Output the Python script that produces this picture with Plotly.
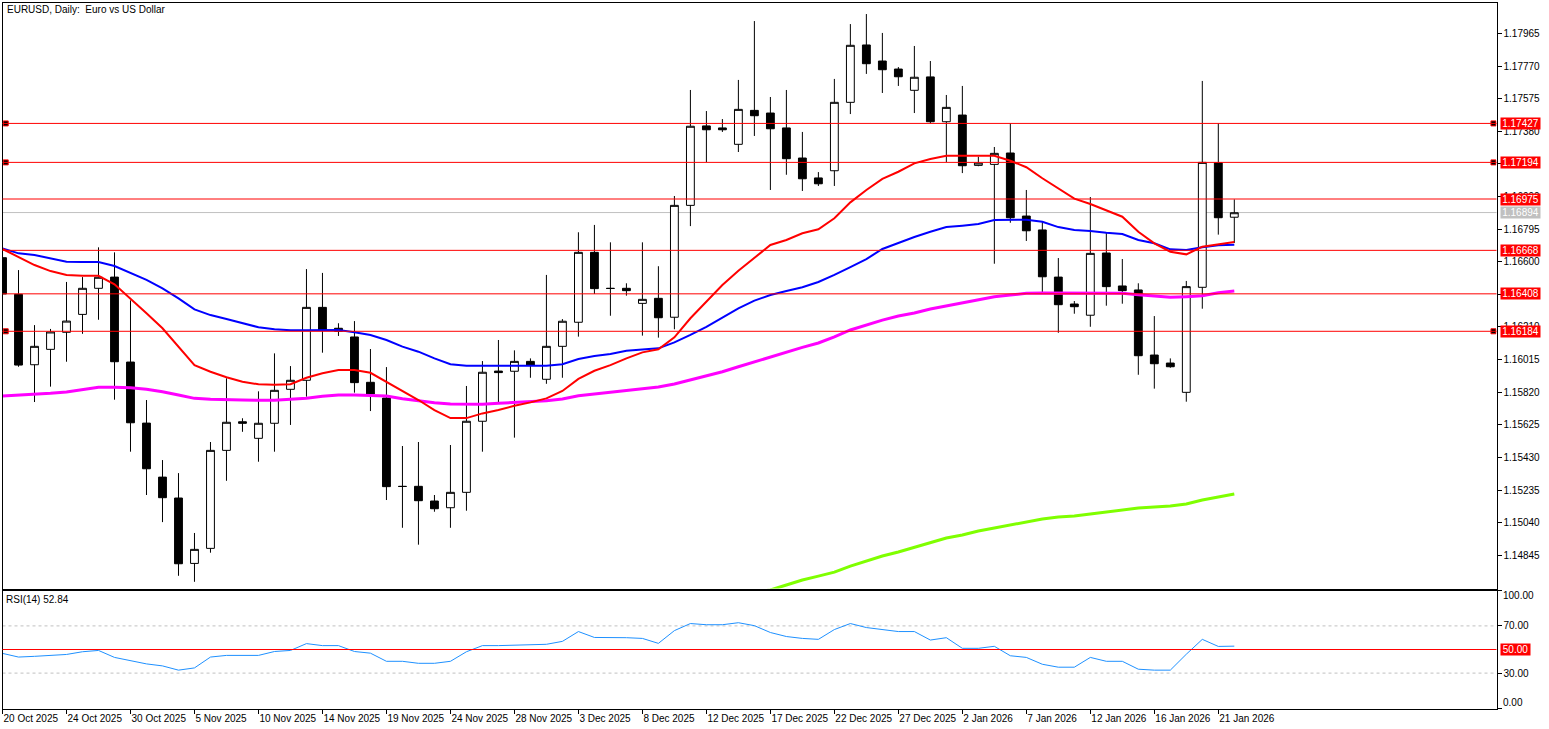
import plotly.graph_objects as go
from plotly.subplots import make_subplots

# EURUSD daily, one row per bar
opens = [
    1.16624, 1.16405, 1.15984, 1.16076, 1.16178, 1.16285, 1.16441, 1.16508, 1.16000, 1.15635,
    1.15312, 1.15187, 1.14796, 1.14886, 1.15472, 1.15643, 1.15544, 1.15634, 1.15837, 1.15891,
    1.16327, 1.16202, 1.16150, 1.15879, 1.15785, 1.15257, 1.15257, 1.15169, 1.15129, 1.15221,
    1.15646, 1.15946, 1.15945, 1.16004, 1.15897, 1.16094, 1.16238, 1.16656, 1.16441, 1.16441,
    1.16351, 1.16381, 1.16268, 1.16937, 1.17412, 1.17400, 1.17302, 1.17505, 1.17489, 1.17400,
    1.17220, 1.17101, 1.17144, 1.17553, 1.17896, 1.17800, 1.17752, 1.17625, 1.17705, 1.17437,
    1.17477, 1.17176, 1.17182, 1.17250, 1.16873, 1.16790, 1.16508, 1.16347, 1.16280, 1.16652,
    1.16455, 1.16431, 1.16042, 1.15994, 1.15819, 1.16447, 1.17192, 1.16866,
]
highs = [
    1.16658, 1.16550, 1.16221, 1.16198, 1.16479, 1.16508, 1.16686, 1.16656, 1.16369, 1.15773,
    1.15414, 1.15336, 1.14978, 1.15522, 1.15903, 1.15664, 1.15825, 1.16052, 1.15976, 1.16556,
    1.16533, 1.16232, 1.16245, 1.16078, 1.15970, 1.15498, 1.15522, 1.15205, 1.15504, 1.15857,
    1.16006, 1.16132, 1.16070, 1.16022, 1.16521, 1.16257, 1.16776, 1.16820, 1.16716, 1.16471,
    1.16716, 1.16573, 1.16993, 1.17627, 1.17501, 1.17453, 1.17687, 1.18039, 1.17585, 1.17627,
    1.17376, 1.17136, 1.17693, 1.18021, 1.18081, 1.17968, 1.17764, 1.17890, 1.17800, 1.17597,
    1.17651, 1.17228, 1.17286, 1.17428, 1.17029, 1.16839, 1.16622, 1.16365, 1.16987, 1.16773,
    1.16616, 1.16471, 1.16275, 1.16022, 1.16485, 1.17681, 1.17428, 1.16973,
]
lows = [
    1.16395, 1.15972, 1.15761, 1.15853, 1.16002, 1.16169, 1.16253, 1.15775, 1.15464, 1.15205,
    1.15043, 1.14722, 1.14686, 1.14860, 1.15290, 1.15583, 1.15404, 1.15464, 1.15624, 1.15793,
    1.16056, 1.16156, 1.15817, 1.15707, 1.15175, 1.15009, 1.14908, 1.15105, 1.15009, 1.15111,
    1.15464, 1.15761, 1.15548, 1.15906, 1.15870, 1.15906, 1.16152, 1.16407, 1.16277, 1.16397,
    1.16158, 1.16146, 1.16196, 1.16813, 1.17196, 1.17376, 1.17256, 1.17352, 1.17029, 1.17120,
    1.17023, 1.17053, 1.17053, 1.17483, 1.17723, 1.17609, 1.17651, 1.17489, 1.17428, 1.17196,
    1.17130, 1.17171, 1.16588, 1.16833, 1.16724, 1.16415, 1.16175, 1.16289, 1.16211, 1.16337,
    1.16349, 1.15924, 1.15841, 1.15966, 1.15763, 1.16319, 1.16762, 1.16712,
]
closes = [
    1.16407, 1.15982, 1.16094, 1.16180, 1.16245, 1.16441, 1.16507, 1.16002, 1.15637, 1.15362,
    1.15189, 1.14794, 1.14880, 1.15472, 1.15640, 1.15634, 1.15634, 1.15831, 1.15891, 1.16327,
    1.16192, 1.16184, 1.15877, 1.15809, 1.15255, 1.15256, 1.15171, 1.15123, 1.15221, 1.15646,
    1.15939, 1.15937, 1.16004, 1.15982, 1.16094, 1.16244, 1.16656, 1.16439, 1.16440, 1.16427,
    1.16375, 1.16265, 1.16937, 1.17410, 1.17389, 1.17389, 1.17511, 1.17473, 1.17395, 1.17216,
    1.17096, 1.17066, 1.17553, 1.17894, 1.17784, 1.17748, 1.17706, 1.17703, 1.17437, 1.17523,
    1.17174, 1.17190, 1.17248, 1.16863, 1.16785, 1.16510, 1.16343, 1.16331, 1.16650, 1.16451,
    1.16427, 1.16038, 1.15990, 1.15972, 1.16451, 1.17194, 1.16863, 1.16893,
]

ma_red = [
    1.16676, 1.16630, 1.16580, 1.16544, 1.16521, 1.16516, 1.16516, 1.16465, 1.16381, 1.16292,
    1.16202, 1.16092, 1.15982, 1.15942, 1.15909, 1.15882, 1.15867, 1.15864, 1.15867, 1.15906,
    1.15933, 1.15952, 1.15952, 1.15936, 1.15882, 1.15831, 1.15773, 1.15713, 1.15665, 1.15665,
    1.15693, 1.15713, 1.15739, 1.15759, 1.15783, 1.15827, 1.15899, 1.15948, 1.15982, 1.16022,
    1.16058, 1.16076, 1.16148, 1.16262, 1.16361, 1.16461, 1.16546, 1.16622, 1.16700, 1.16730,
    1.16770, 1.16794, 1.16860, 1.16955, 1.17029, 1.17095, 1.17138, 1.17188, 1.17214, 1.17234,
    1.17234, 1.17234, 1.17234, 1.17204, 1.17165, 1.17099, 1.17039, 1.16977, 1.16945, 1.16909,
    1.16869, 1.16779, 1.16710, 1.16660, 1.16644, 1.16690, 1.16706, 1.16718,
]
ma_blue = [
    1.16680, 1.16650, 1.16640, 1.16620, 1.16600, 1.16598, 1.16598, 1.16574, 1.16534, 1.16491,
    1.16441, 1.16381, 1.16315, 1.16281, 1.16257, 1.16232, 1.16208, 1.16196, 1.16190, 1.16190,
    1.16193, 1.16192, 1.16178, 1.16162, 1.16132, 1.16092, 1.16062, 1.16022, 1.15987, 1.15978,
    1.15978, 1.15978, 1.15978, 1.15978, 1.15978, 1.15987, 1.16018, 1.16036, 1.16048, 1.16068,
    1.16076, 1.16082, 1.16118, 1.16162, 1.16211, 1.16268, 1.16321, 1.16367, 1.16401, 1.16425,
    1.16447, 1.16479, 1.16521, 1.16568, 1.16616, 1.16676, 1.16712, 1.16748, 1.16779, 1.16807,
    1.16815, 1.16825, 1.16849, 1.16851, 1.16851, 1.16839, 1.16807, 1.16790, 1.16784, 1.16773,
    1.16766, 1.16730, 1.16710, 1.16674, 1.16670, 1.16686, 1.16698, 1.16702,
]
ma_magenta = [
    1.15797, 1.15801, 1.15807, 1.15813, 1.15821, 1.15837, 1.15849, 1.15849, 1.15847, 1.15837,
    1.15823, 1.15803, 1.15783, 1.15777, 1.15777, 1.15773, 1.15771, 1.15771, 1.15777, 1.15783,
    1.15795, 1.15803, 1.15803, 1.15801, 1.15797, 1.15781, 1.15767, 1.15757, 1.15749, 1.15747,
    1.15747, 1.15753, 1.15757, 1.15761, 1.15769, 1.15779, 1.15799, 1.15809, 1.15819, 1.15833,
    1.15841, 1.15851, 1.15869, 1.15893, 1.15918, 1.15942, 1.15972, 1.16002, 1.16032, 1.16060,
    1.16088, 1.16114, 1.16150, 1.16192, 1.16222, 1.16251, 1.16275, 1.16293, 1.16317, 1.16335,
    1.16357, 1.16371, 1.16391, 1.16401, 1.16411, 1.16413, 1.16413, 1.16413, 1.16413, 1.16411,
    1.16411, 1.16403, 1.16397, 1.16387, 1.16391, 1.16397, 1.16415, 1.16425,
]
# green only comes into view from bar 47
green_start = 47
ma_green = [
    1.14625, 1.14637, 1.14667, 1.14697, 1.14720, 1.14744, 1.14780, 1.14810, 1.14840, 1.14864,
    1.14891, 1.14918, 1.14948, 1.14966, 1.14990, 1.15008, 1.15026, 1.15043, 1.15061, 1.15073,
    1.15079, 1.15091, 1.15103, 1.15115, 1.15127, 1.15133, 1.15139, 1.15151, 1.15175, 1.15193,
    1.15211,
]

rsi = [
    46.7, 43.6, 44.2, 45.0, 45.8, 48.1, 49.2, 43.3, 40.3, 37.8,
    36.1, 32.5, 34.4, 43.6, 45.0, 45.0, 45.0, 48.3, 49.2, 55.0,
    53.3, 53.3, 48.3, 46.9, 40.0, 40.0, 38.3, 38.3, 40.0, 48.1,
    53.3, 53.3, 53.6, 53.6, 54.4, 56.9, 65.2, 60.2, 60.2, 60.0,
    59.4, 55.2, 66.0, 72.0, 71.0, 71.0, 72.7, 70.2, 64.4, 61.0,
    59.4, 58.6, 66.9, 72.0, 68.6, 66.9, 65.2, 65.2, 58.0, 60.0,
    51.0, 51.0, 52.7, 44.7, 43.3, 37.5, 35.0, 35.0, 43.3, 40.0,
    40.0, 33.3, 32.5, 32.5, 46.0, 58.6, 52.6, 52.84,
]

date_labels = [
    "20 Oct 2025", "24 Oct 2025", "30 Oct 2025", "5 Nov 2025", "10 Nov 2025", "14 Nov 2025",
    "19 Nov 2025", "24 Nov 2025", "28 Nov 2025", "3 Dec 2025", "8 Dec 2025", "12 Dec 2025",
    "17 Dec 2025", "22 Dec 2025", "27 Dec 2025", "2 Jan 2026", "7 Jan 2026", "12 Jan 2026",
    "16 Jan 2026", "21 Jan 2026",
]
price_ticks = [
    1.17965, 1.17770, 1.17575, 1.17380, 1.17185, 1.16990, 1.16795, 1.16600, 1.16405,
    1.16210, 1.16015, 1.15820, 1.15625, 1.15430, 1.15235, 1.15040, 1.14845,
]
red_levels = [1.17427, 1.17194, 1.16975, 1.16668, 1.16408, 1.16184]
handle_levels = [1.17427, 1.17194, 1.16184]
bid_level = 1.16894

W, H = 1549, 729
FONT = "Liberation Sans, sans-serif"
bars = list(range(len(closes)))
# bar 0 has to stay inside the range or its date label gets dropped
x_range = [-0.001, 93.39]
x_domain = [2.5 / W, 1496.5 / W]

fig = make_subplots(rows=2, cols=1, shared_xaxes=True)

fig.add_trace(go.Candlestick(
    x=bars, open=opens, high=highs, low=lows, close=closes, whiskerwidth=0,
    increasing=dict(line=dict(color="black", width=1), fillcolor="white"),
    decreasing=dict(line=dict(color="black", width=1), fillcolor="black"),
), row=1, col=1)

fig.add_trace(go.Scatter(x=bars[green_start:], y=ma_green, mode="lines", line=dict(color="#7fff00", width=3)), row=1, col=1)
fig.add_trace(go.Scatter(x=bars, y=ma_magenta, mode="lines", line=dict(color="#ff00ff", width=3)), row=1, col=1)
fig.add_trace(go.Scatter(x=bars, y=ma_blue, mode="lines", line=dict(color="#0000ff", width=2)), row=1, col=1)
fig.add_trace(go.Scatter(x=bars, y=ma_red, mode="lines", line=dict(color="#ff0000", width=2)), row=1, col=1)

# line handles at both ends of the selected levels
for level in handle_levels:
    fig.add_trace(go.Scatter(x=[0.2, 93.2], y=[level, level], mode="markers",
                             marker=dict(symbol="square", size=5, color="black", line=dict(color="#ff0000", width=1))), row=1, col=1)

fig.add_trace(go.Scatter(x=bars, y=rsi, mode="lines", line=dict(color="#1e90ff", width=1)), row=2, col=1)

fig.add_hline(y=bid_level, line=dict(color="#c0c0c0", width=1), layer="below", row=1, col=1)
for level in red_levels:
    fig.add_hline(y=level, line=dict(color="#ff0000", width=1), row=1, col=1)
for level in [70, 30]:
    fig.add_hline(y=level, line=dict(color="#c0c0c0", width=1, dash="3px,3px"), layer="below", row=2, col=1)
fig.add_hline(y=50, line=dict(color="#ff0000", width=1), row=2, col=1)

axis_line = dict(showline=True, linecolor="black", linewidth=1, mirror=True, showgrid=False, zeroline=False, automargin=False)
tick_style = dict(ticks="outside", ticklen=4, tickwidth=1, tickcolor="black")

fig.update_xaxes(range=x_range, domain=x_domain, rangeslider_visible=False, showticklabels=False, ticks="", **axis_line, row=1, col=1)
fig.update_xaxes(range=x_range, domain=x_domain, tickmode="array", tickvals=bars[::4], ticktext=date_labels, showticklabels=True, tickangle=0,
                 ticklabelposition="outside right", **tick_style, **axis_line, row=2, col=1)
fig.update_yaxes(range=[1.14646, 1.18150], domain=[1 - 588.5 / H, 1 - 2.5 / H], side="right", tickmode="array",
                 tickvals=price_ticks, ticktext=[f"{p:.5f}" for p in price_ticks], **tick_style, **axis_line, row=1, col=1)
fig.update_yaxes(range=[0, 100], domain=[1 - 708.5 / H, 1 - 590.5 / H], side="right", tickmode="array",
                 tickvals=[100, 70, 30, 0], ticktext=["", "70.00", "30.00", ""], **tick_style, **axis_line, row=2, col=1)

fig.update_layout(
    width=W, height=H, margin=dict(l=0, r=0, t=0, b=0, autoexpand=False), showlegend=False, hovermode=False,
    paper_bgcolor="white", plot_bgcolor="white", font=dict(family=FONT, size=10, color="black"),
)


def tag(text, yval, yref, color, width):
    fig.add_annotation(x=1499.5 / W, xref="paper", xanchor="left", y=yval, yref=yref, yanchor="middle", text=text, showarrow=False,
                       bgcolor=color, font=dict(color="white"), width=width, height=11, borderpad=0, align="center")


for level in red_levels:
    tag(f"{level:.5f}", level, "y", "#ff0000", 39)
tag(f"{bid_level:.5f}", bid_level, "y", "#c0c0c0", 39)
tag("50.00", 50, "y2", "#ff0000", 29)


def label(text, px_x, px_y):
    fig.add_annotation(x=px_x / W, xref="paper", xanchor="left", y=1 - px_y / H, yref="paper", yanchor="middle", text=text, showarrow=False, borderpad=0)


label("EURUSD, Daily:\u00a0 Euro vs US Dollar", 6, 9.5)
label("RSI(14) 52.84", 5, 599.5)
label("100.00", 1502, 595.5)
label("0.00", 1502, 702.5)

fig.write_html("out.html", config=dict(displayModeBar=False), post_script="document.body.style.margin='0';")
